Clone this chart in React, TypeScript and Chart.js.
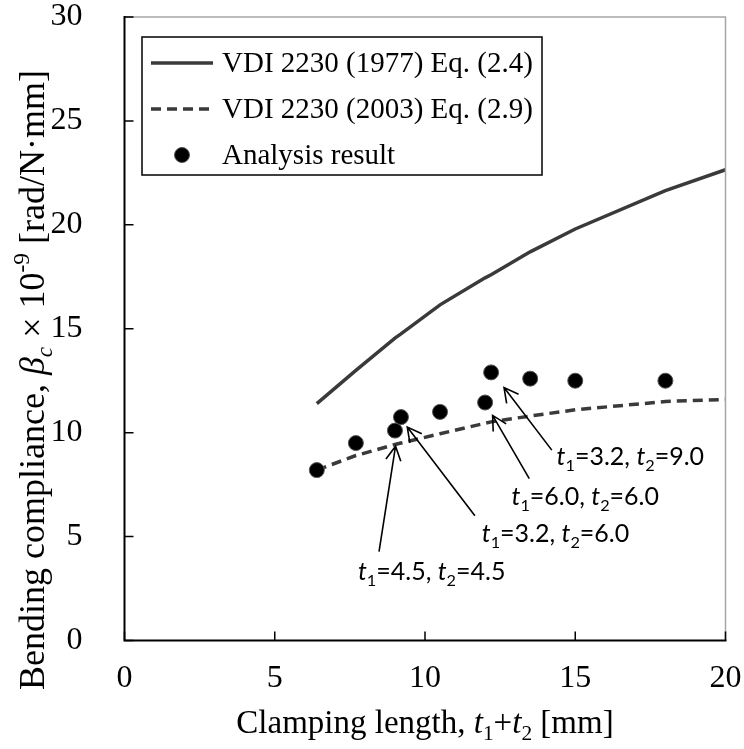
import React, { useEffect, useRef } from 'react';
import { Chart, registerables } from 'chart.js';

Chart.register(...registerables);

// ---- data ----
const clampLengths = [6.4, 7.7, 9.0, 9.2, 10.5, 12.0, 12.2, 13.5, 15.0, 18.0];
const analysisResult = [8.2, 9.5, 10.1, 10.75, 11.0, 11.45, 12.9, 12.6, 12.5, 12.5];
const curveLengths = [6.4, 7.7, 9.0, 9.2, 10.5, 12.0, 12.2, 13.5, 15.0, 18.0, 20.0];
const vdi1977 = [11.4, 13.0, 14.55, 14.75, 16.15, 17.45, 17.6, 18.7, 19.8, 21.65, 22.65];
const vdi2003 = [8.2, 8.9, 9.43, 9.5, 9.95, 10.45, 10.52, 10.8, 11.1, 11.5, 11.6];
const xTicks = [0, 5, 10, 15, 20];
const yTicks = [0, 5, 10, 15, 20, 25, 30];
const seriesLabels = ['VDI 2230 (1977) Eq. (2.4)', 'VDI 2230 (2003) Eq. (2.9)', 'Analysis result'];

// annotations (data coordinates)
const annotT1 = ['3.2', '6.0', '3.2', '4.5'];
const annotT2 = ['9.0', '6.0', '6.0', '4.5'];
const annotHeadX = [12.63, 12.25, 9.41, 9.02];
const annotHeadY = [12.17, 10.83, 10.27, 9.35];
const annotTailX = [14.22, 13.47, 11.66, 8.47];
const annotTailY = [9.16, 7.79, 6.0, 4.28];
const annotTextX = [14.38, 12.88, 11.89, 7.77];
const annotTextY = [8.87, 6.94, 5.17, 3.32];

const SERIF = "'Liberation Serif', 'Times New Roman', serif";
const SANS = "Lato, 'Noto Sans', sans-serif";
const LINE_COLOR = '#3a3a3a';

type Seg = { t: string; i?: boolean; s?: 'sub' | 'sup' };

function drawRich(ctx: CanvasRenderingContext2D, segs: Seg[], x: number, baseline: number, size: number, family: string, align: 'left' | 'center') {
  const fontFor = (seg: Seg) => {
    const sz = seg.s ? size * 0.65 : size;
    return `${seg.i ? 'italic ' : ''}${sz}px ${family}`;
  };
  let total = 0;
  const widths = segs.map((seg) => {
    ctx.font = fontFor(seg);
    const w = ctx.measureText(seg.t).width;
    total += w;
    return w;
  });
  let cx = align === 'center' ? x - total / 2 : x;
  ctx.textAlign = 'left';
  ctx.textBaseline = 'alphabetic';
  segs.forEach((seg, k) => {
    ctx.font = fontFor(seg);
    const dy = seg.s === 'sub' ? size * 0.22 : seg.s === 'sup' ? -size * 0.4 : 0;
    ctx.fillText(seg.t, cx, baseline + dy);
    cx += widths[k];
  });
}

const decorPlugin = {
  id: 'decor',
  afterDraw(chart: any) {
    const ctx: CanvasRenderingContext2D = chart.ctx;
    const { left, right, top, bottom } = chart.chartArea;
    const xs = chart.scales.x;
    const ys = chart.scales.y;
    ctx.save();

    // frame
    ctx.lineCap = 'butt';
    ctx.strokeStyle = '#a6a6a6';
    ctx.lineWidth = 1.5;
    ctx.beginPath();
    ctx.moveTo(left, top);
    ctx.lineTo(right, top);
    ctx.lineTo(right, bottom);
    ctx.stroke();
    ctx.strokeStyle = '#000';
    ctx.lineWidth = 2;
    ctx.beginPath();
    ctx.moveTo(left, top - 1);
    ctx.lineTo(left, bottom);
    ctx.lineTo(right + 1, bottom);
    ctx.stroke();

    // inward ticks
    ctx.lineWidth = 1.5;
    ctx.beginPath();
    xTicks.forEach((v) => {
      const px = xs.getPixelForValue(v);
      ctx.moveTo(px, bottom);
      ctx.lineTo(px, bottom - 9);
    });
    yTicks.forEach((v) => {
      const py = ys.getPixelForValue(v);
      ctx.moveTo(left, py);
      ctx.lineTo(left + 9, py);
    });
    ctx.stroke();

    // legend
    const lx = left + 17.5;
    const ly = top + 20;
    ctx.strokeStyle = '#000';
    ctx.lineWidth = 1.5;
    ctx.fillStyle = '#fff';
    ctx.fillRect(lx, ly, 400, 138);
    ctx.strokeRect(lx, ly, 400, 138);
    const rowY = [ly + 26, ly + 72, ly + 118];
    const ds = chart.data.datasets;
    const legendOrder = [1, 2, 0];
    legendOrder.forEach((di, r) => {
      const d = ds[di];
      const y = rowY[r];
      if (d.showLine) {
        ctx.strokeStyle = d.borderColor;
        ctx.lineWidth = d.borderWidth;
        ctx.setLineDash(d.borderDash || []);
        ctx.beginPath();
        ctx.moveTo(lx + 9, y);
        ctx.lineTo(lx + 71, y);
        ctx.stroke();
        ctx.setLineDash([]);
      } else {
        ctx.fillStyle = d.backgroundColor;
        ctx.strokeStyle = d.borderColor;
        ctx.lineWidth = d.borderWidth;
        ctx.beginPath();
        ctx.arc(lx + 40, y, d.pointRadius, 0, Math.PI * 2);
        ctx.fill();
        ctx.stroke();
      }
      ctx.fillStyle = '#000';
      ctx.font = `29px ${SERIF}`;
      ctx.textAlign = 'left';
      ctx.textBaseline = 'middle';
      ctx.fillText(d.label, lx + 80, y + 1);
    });

    // annotations
    ctx.strokeStyle = '#000';
    ctx.fillStyle = '#000';
    ctx.lineWidth = 1.6;
    annotT1.forEach((t1, k) => {
      const hx = xs.getPixelForValue(annotHeadX[k]);
      const hy = ys.getPixelForValue(annotHeadY[k]);
      const tx = xs.getPixelForValue(annotTailX[k]);
      const ty = ys.getPixelForValue(annotTailY[k]);
      const ang = Math.atan2(ty - hy, tx - hx);
      const L = 16;
      const a = (28 * Math.PI) / 180;
      ctx.beginPath();
      ctx.moveTo(tx, ty);
      ctx.lineTo(hx, hy);
      ctx.moveTo(hx + L * Math.cos(ang - a), hy + L * Math.sin(ang - a));
      ctx.lineTo(hx, hy);
      ctx.lineTo(hx + L * Math.cos(ang + a), hy + L * Math.sin(ang + a));
      ctx.stroke();
      const px = xs.getPixelForValue(annotTextX[k]);
      const py = ys.getPixelForValue(annotTextY[k]);
      const size = 25;
      drawRich(
        ctx,
        [
          { t: 't', i: true },
          { t: '1', s: 'sub' },
          { t: `=${t1}, ` },
          { t: 't', i: true },
          { t: '2', s: 'sub' },
          { t: `=${annotT2[k]}` },
        ],
        px,
        py + size * 0.36,
        size,
        SANS,
        'left'
      );
    });

    // axis titles
    ctx.fillStyle = '#000';
    const ts = 33;
    drawRich(
      ctx,
      [
        { t: 'Clamping length, ' },
        { t: 't', i: true },
        { t: '1', s: 'sub' },
        { t: '+' },
        { t: 't', i: true },
        { t: '2', s: 'sub' },
        { t: ' [mm]' },
      ],
      (left + right) / 2,
      722 + ts * 0.33,
      ts,
      SERIF,
      'center'
    );
    ctx.save();
    ctx.translate(32, 380);
    ctx.rotate(-Math.PI / 2);
    drawRich(
      ctx,
      [
        { t: 'Bending compliance, ' },
        { t: 'β', i: true },
        { t: 'c', i: true, s: 'sub' },
        { t: ' × 10' },
        { t: '-9', s: 'sup' },
        { t: ' [rad/N·mm]' },
      ],
      0,
      36 * 0.33,
      36,
      SERIF,
      'center'
    );
    ctx.restore();

    ctx.restore();
  },
};

export default function App() {
  const ref = useRef<HTMLCanvasElement | null>(null);
  useEffect(() => {
    if (!ref.current) return;
    const chart = new Chart(ref.current, {
      type: 'scatter',
      data: {
        datasets: [
          {
            label: seriesLabels[2],
            data: clampLengths.map((x, i) => ({ x, y: analysisResult[i] })),
            showLine: false,
            pointRadius: 7.5,
            pointHoverRadius: 7.5,
            backgroundColor: '#000',
            borderColor: '#555',
            borderWidth: 1,
            order: 0,
          },
          {
            label: seriesLabels[0],
            data: curveLengths.map((x, i) => ({ x, y: vdi1977[i] })),
            showLine: true,
            pointRadius: 0,
            borderColor: LINE_COLOR,
            borderWidth: 3.5,
            tension: 0,
            order: 1,
          },
          {
            label: seriesLabels[1],
            data: curveLengths.map((x, i) => ({ x, y: vdi2003[i] })),
            showLine: true,
            pointRadius: 0,
            borderColor: LINE_COLOR,
            borderWidth: 3.5,
            borderDash: [10, 6],
            tension: 0,
            order: 2,
          },
        ] as any,
      },
      options: {
        animation: false,
        responsive: false,
        layout: { padding: { left: 0, top: 17, right: 18.5, bottom: 0 } },
        plugins: { legend: { display: false }, tooltip: { enabled: false } },
        scales: {
          x: {
            type: 'linear',
            min: 0,
            max: 20,
            afterBuildTicks: (s: any) => {
              s.ticks = xTicks.map((v) => ({ value: v }));
            },
            afterFit: (s: any) => {
              s.height = 108.5;
              s.paddingLeft = 0;
              s.paddingRight = 0;
            },
            grid: { display: false },
            border: { display: false },
            ticks: {
              color: '#000',
              font: { family: SERIF, size: 32 },
              padding: 11,
              maxRotation: 0,
            },
          },
          y: {
            type: 'linear',
            min: 0,
            max: 30,
            afterBuildTicks: (s: any) => {
              s.ticks = yTicks.map((v) => ({ value: v }));
            },
            afterFit: (s: any) => {
              s.width = 124.5;
              s.paddingTop = 0;
              s.paddingBottom = 0;
            },
            grid: { display: false },
            border: { display: false },
            ticks: {
              color: '#000',
              font: { family: SERIF, size: 32 },
              padding: 34,
            },
          },
        },
      } as any,
      plugins: [decorPlugin],
    });
    return () => chart.destroy();
  }, []);
  return (
    <div style={{ position: 'absolute', left: 0, top: 0, width: 744, height: 749, background: '#fff' }}>
      <canvas ref={ref} width={744} height={749} style={{ width: 744, height: 749, display: 'block' }} />
    </div>
  );
}
